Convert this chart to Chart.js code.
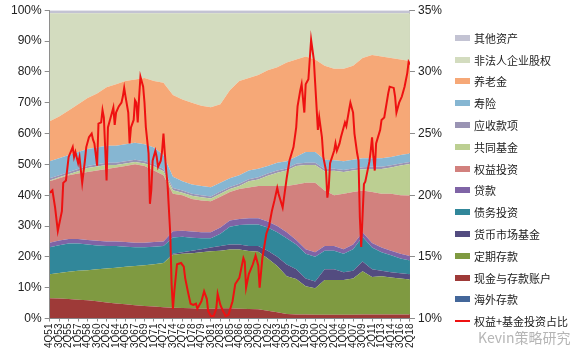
<!DOCTYPE html>
<html><head><meta charset="utf-8">
<script src="https://cdn.jsdelivr.net/npm/chart.js@4.4.1/dist/chart.umd.min.js"></script>
<style>
html,body{margin:0;padding:0;background:#fff;}
#wrap{position:relative;width:576px;height:353px;overflow:hidden;}
#c{position:absolute;left:0;top:0;}
#legend{position:absolute;left:455px;top:27px;font-family:"Noto Sans CJK SC";font-size:11px;color:#222;}
.li{height:21.8px;display:flex;align-items:center;white-space:nowrap;}
.sw{width:15px;height:6px;margin-right:4px;flex:none;}
#wm{position:absolute;left:478px;top:327px;font-family:"Noto Sans CJK SC";font-size:14px;color:rgba(150,150,150,0.7);white-space:nowrap;}
</style></head>
<body><div id="wrap"><canvas id="c" width="576" height="353"></canvas><div id="legend"></div><div id="wm">Kevin策略研究</div></div>
<script>
// x-axis tick labels (every 7 quarters from 4Q51 to 2Q18)
const tickLabels = ['4Q51','3Q53','2Q55','1Q57','4Q58','3Q60','2Q62','1Q64','4Q65','3Q67','2Q69','1Q71','4Q72','3Q74','2Q76','1Q78','4Q79','3Q81','2Q83','1Q85','4Q86','3Q88','2Q90','1Q92','4Q93','3Q95','2Q97','1Q99','4Q00','3Q02','2Q04','1Q06','4Q07','3Q09','2Q11','1Q13','4Q14','3Q16','2Q18'];

// stacked shares (%) at each tick label, bottom to top
const overseasDeposits = [0.1,0.1,0.1,0.1,0.1,0.1,0.1,0.1,0.1,0.1,0.1,0.1,0.1,0.1,0.1,0.1,0.1,0.1,0.1,0.2,0.2,0.2,0.2,0.2,0.2,0.2,0.2,0.2,0.2,0.2,0.2,0.2,0.2,0.2,0.2,0.2,0.2,0.2,0.2];
const cashDeposits = [6.5,6.4,6.2,6.0,5.8,5.5,5.1,4.8,4.5,4.2,4.0,3.8,3.6,3.4,3.3,3.2,3.1,3.1,3.2,3.1,3.0,2.9,2.8,2.3,1.8,1.3,1.1,1.1,1.0,1.0,1.0,1.0,1.0,1.1,1.1,1.1,1.1,1.1,1.1];
const timeDeposits = [7.8,8.3,8.9,9.4,9.8,10.4,11.0,11.6,12.2,12.7,13.2,13.7,14.3,17.2,17.6,17.9,18.3,18.6,18.7,19.1,19.2,18.8,18.7,17.0,15.0,12.2,11.5,9.2,8.6,11.3,11.3,11.3,11.8,14.0,12.2,12.4,12.0,11.7,11.4];
const moneyMarket = [0,0,0,0,0,0,0,0,0,0,0,0,0,0.3,0.5,0.8,1.0,1.2,1.5,1.6,1.6,1.6,1.8,2.5,3.0,3.8,3.2,2.5,2.2,3.5,3.5,2.5,2.5,3.2,2.5,1.8,1.7,1.7,1.7];
const debtInvest = [8.7,9.0,9.1,8.8,8.3,7.7,7.3,7.0,6.5,6.1,5.8,5.7,5.5,5.3,5.0,4.2,3.5,3.0,4.0,5.8,6.3,7.0,7.0,7.5,8.0,8.5,8.0,8.0,8.0,6.0,6.0,6.0,7.0,8.0,7.0,6.0,5.5,4.8,4.4];
const loans = [1.5,1.5,1.5,1.5,1.5,1.5,1.5,1.5,1.5,1.5,1.5,1.5,1.5,2,2,2,2,2,2,2,2,2,2,2,2,2,1.5,1.5,1.5,1.5,1.5,1.5,1.5,1.5,1.5,1.5,1.5,1.5,1.5];
const equityInvest = [19.9,20.2,20.7,21.2,22.0,22.8,23.5,24.0,24.7,25.4,24.9,23.2,21.5,12.2,11.5,10.6,10.3,10.0,10.0,9.2,9.7,10.0,10.5,11.5,13.0,15.0,18.0,21.5,22.5,18.0,16.5,18.0,17.0,13.5,16.5,17.5,18.5,19.0,19.6];
const mutualFunds = [0.3,0.3,0.3,0.8,1.3,1.3,1.3,0.8,0.8,0.8,0.8,1.3,1.3,1.1,0.8,1.0,1.0,0.9,1.0,1.0,1.0,2.0,2.1,3.3,4.3,5.0,6.0,5.8,5.8,6.3,7.9,7.0,7.0,6.9,7.5,8.0,8.5,9.6,10.2];
const receivables = [0.7,0.7,0.7,0.7,0.7,0.7,0.7,0.7,0.7,0.7,0.7,0.7,0.7,0.7,0.7,0.7,0.7,0.7,0.7,0.7,0.7,0.7,0.7,0.7,0.7,0.7,0.7,0.7,0.7,0.7,0.7,0.7,0.7,0.7,0.7,0.7,0.7,0.7,0.7];
const lifeInsurance = [5.5,5.5,5.5,5.5,5.5,5.5,5.5,5.5,5.5,5.5,5.5,5.5,4.5,3.7,3.0,3.0,3.0,3.0,2.8,2.8,2.8,2.8,2.8,2.5,2.5,2.3,2.3,3.5,3.5,3.0,2.7,2.8,2.8,2.9,2.8,2.8,2.7,2.7,2.7];
const pensions = [13,13.5,14.5,15.5,16.5,17.5,19,20,20.5,20.5,21.5,21.5,23.5,26.5,26.5,26.5,26,25.9,25.5,28.5,30.5,30,30.4,31,31,32,31.5,31,30,30.5,29.7,30,30.5,32.5,33.5,33,32.1,31,30];
const nonCorpEquity = [35,33.5,31.5,29.5,27.5,26,24,23,22,21.5,21,22,22.5,26.5,28,29,30,30.5,29.5,25,22,21,20,18.5,17.5,16,15,14,15,17,18,18,17,14.5,13.5,14,14.5,15,15.5];
const otherAssets = [1,1,1,1,1,1,1,1,1,1,1,1,1,1,1,1,1,1,1,1,1,1,1,1,1,1,1,1,1,1,1,1,1,1,1,1,1,1,1];

// equity + fund share (%), right axis
const lineQuarters = ['4Q51','2Q52','4Q52','2Q53','1Q54','2Q54','4Q54','2Q55','1Q56','2Q56','3Q56','1Q57','2Q57','4Q57','2Q58','3Q58','1Q59','3Q59','4Q59','1Q60','3Q60','4Q60','2Q61','3Q61','4Q61','2Q62','3Q62','1Q63','3Q63','4Q63','1Q64','3Q64','1Q65','2Q65','3Q65','4Q65','2Q66','3Q66','4Q66','2Q67','3Q67','4Q67','1Q68','2Q68','3Q68','1Q69','2Q69','3Q69','1Q70','2Q70','3Q70','4Q70','2Q71','3Q71','4Q71','2Q72','3Q72','4Q72','1Q73','2Q73','3Q73','1Q74','2Q74','3Q74','4Q74','2Q75','1Q76','3Q76','4Q76','2Q77','4Q77','2Q78','4Q78','1Q79','4Q79','2Q80','4Q80','1Q81','3Q81','1Q82','3Q82','4Q82','2Q83','4Q83','2Q84','4Q84','3Q85','1Q86','4Q86','3Q87','4Q87','1Q88','3Q88','2Q89','4Q89','2Q90','3Q90','1Q91','4Q91','2Q92','4Q92','2Q93','4Q93','1Q94','4Q94','3Q95','1Q96','4Q96','2Q97','3Q97','1Q98','2Q98','4Q98','1Q99','3Q99','1Q00','3Q00','4Q00','2Q01','3Q01','1Q02','2Q02','4Q02','1Q03','2Q03','3Q03','2Q04','3Q04','4Q04','2Q05','3Q05','2Q06','3Q06','1Q07','2Q07','4Q07','1Q08','3Q08','4Q08','1Q09','2Q09','4Q09','1Q10','4Q10','1Q11','2Q11','3Q11','4Q11','1Q12','4Q12','1Q13','3Q13','2Q14','3Q14','2Q15','3Q15','4Q15','2Q16','4Q16','2Q17','4Q17','1Q18','2Q18'];
const lineValues = [20.2,20.4,19.0,17.1,18.7,21.0,21.2,23.1,23.9,23.1,23.5,22.6,23.1,21.0,22.8,23.9,24.7,25.0,24.5,24.2,22.4,25.8,25.9,26.9,26.3,21.2,25.5,26.3,27.1,25.7,26.7,27.2,27.5,28.0,28.7,28.0,26.7,24.2,25.5,26.1,27.7,27.5,25.9,27.9,29.6,28.8,27.5,25.5,23.4,19.3,20.4,22.8,23.6,23.1,22.3,22.8,23.6,25.0,23.4,22.0,20.9,16.9,12.8,10.8,12.2,14.4,14.5,14.2,13.3,12.2,11.2,11.1,11.2,10.8,11.4,12.2,11.6,10.6,10.2,10.2,10.8,12.0,11.1,10.6,10.2,10.3,11.4,12.8,13.3,14.9,14.6,12.5,13.6,14.4,15.1,14.3,12.5,14.9,16.9,17.5,18.7,19.6,20.6,20.1,19.0,21.4,22.8,23.9,25.5,27.2,28.5,29.0,26.7,29.0,29.4,32.6,31.0,29.1,25.3,26.3,24.7,23.1,22.0,19.8,20.6,22.6,23.6,24.2,23.6,24.2,24.7,25.9,25.6,26.9,27.5,26.7,25.0,23.4,22.8,18.2,15.8,20.9,21.1,22.7,23.6,24.7,23.1,22.0,24.2,25.3,26.1,26.3,28.3,28.8,28.7,28.0,26.7,27.5,28.0,28.8,29.9,30.8,30.6];

// quarter label -> quarters elapsed since 4Q51
function qIndex(lbl){
  const q = parseInt(lbl[0],10);
  const yy = parseInt(lbl.slice(2),10);
  const year = yy >= 50 ? 1900 + yy : 2000 + yy;
  return (year - 1951) * 4 + (q - 1) - 3;
}

const areaSeries = [
  ['海外存款', overseasDeposits, '#44679a'],
  ['现金与存款账户', cashDeposits, '#9e3a38'],
  ['定期存款', timeDeposits, '#7f9a41'],
  ['货币市场基金', moneyMarket, '#534c80'],
  ['债务投资', debtInvest, '#31879a'],
  ['贷款', loans, '#7f64a6'],
  ['权益投资', equityInvest, '#d2817e'],
  ['共同基金', mutualFunds, '#bccf92'],
  ['应收款项', receivables, '#9a94b4'],
  ['寿险', lifeInsurance, '#86b6d2'],
  ['养老金', pensions, '#f6a877'],
  ['非法人企业股权', nonCorpEquity, '#d3dcbf'],
  ['其他资产', otherAssets, '#c3c3d3']
];
const lineLabel = '权益+基金投资占比';
const lineColor = '#ee1111';

const datasets = [{
  label: lineLabel,
  type: 'line',
  yAxisID: 'y2',
  data: lineQuarters.map((q, i) => ({x: qIndex(q), y: lineValues[i]})),
  borderColor: lineColor,
  borderWidth: 2,
  pointRadius: 0,
  fill: false,
  tension: 0
}];
areaSeries.forEach((s, k) => {
  datasets.push({
    label: s[0],
    type: 'line',
    yAxisID: 'y',
    stack: 'assets',
    data: s[1].map((v, i) => ({x: qIndex(tickLabels[i]), y: v})),
    backgroundColor: s[2],
    borderColor: s[2],
    borderWidth: 0,
    pointRadius: 0,
    tension: 0,
    fill: k === 0 ? 'origin' : '-1'
  });
});

const axisColor = '#8c8c8c';
const tickFont = {family: 'Liberation Sans, Arial, sans-serif', size: 12};

new Chart(document.getElementById('c'), {
  type: 'line',
  data: {datasets},
  options: {
    responsive: false,
    animation: false,
    layout: {padding: {left: 8, right: 131, top: 5, bottom: 3}},
    plugins: {legend: {display: false}, tooltip: {enabled: false}},
    scales: {
      x: {
        type: 'linear',
        min: 0, max: qIndex('2Q18'),
        afterBuildTicks: sc => { sc.ticks = tickLabels.map(l => ({value: qIndex(l)})); },
        ticks: {
          autoSkip: false, maxRotation: 90, minRotation: 90,
          font: {family: 'Liberation Sans, Arial, sans-serif', size: 10},
          color: '#222', padding: 2,
          callback: v => tickLabels[tickLabels.findIndex(l => qIndex(l) === v)]
        },
        grid: {drawOnChartArea: false, drawTicks: true, tickLength: 3, color: axisColor},
        border: {color: axisColor, width: 1}
      },
      y: {
        stacked: true,
        position: 'left',
        min: 0, max: 100,
        ticks: {stepSize: 10, callback: v => v + '%', font: tickFont, color: '#222', padding: 3},
        grid: {drawOnChartArea: false, drawTicks: true, tickLength: 5, color: axisColor},
        border: {color: axisColor, width: 1}
      },
      y2: {
        position: 'right',
        min: 10, max: 35,
        ticks: {stepSize: 5, callback: v => v + '%', font: tickFont, color: '#222', padding: 3},
        grid: {drawOnChartArea: false, drawTicks: true, tickLength: 5, color: axisColor},
        border: {color: axisColor, width: 1}
      }
    }
  }
});

// legend (reverse stacking order, then the line)
const lg = document.getElementById('legend');
const items = areaSeries.slice().reverse().map(s => ({label: s[0], color: s[2], line: false}));
items.push({label: lineLabel, color: lineColor, line: true});
items.forEach(it => {
  const row = document.createElement('div');
  row.className = 'li';
  const sw = document.createElement('span');
  sw.className = 'sw';
  if (it.line) { sw.style.height = '2px'; sw.style.background = it.color; }
  else { sw.style.background = it.color; }
  const tx = document.createElement('span');
  tx.textContent = it.label;
  row.appendChild(sw); row.appendChild(tx);
  lg.appendChild(row);
});
</script>
</body></html>
